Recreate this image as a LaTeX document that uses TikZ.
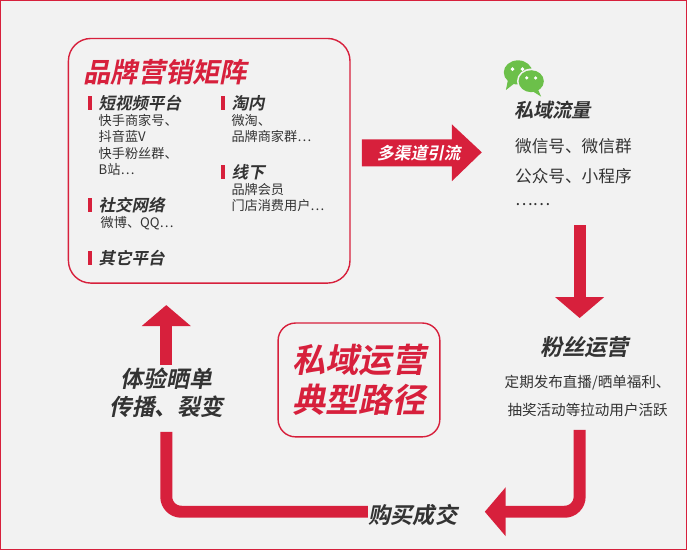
\documentclass[tikz,border=0pt]{standalone}
\usepackage{fontspec}
\setmainfont{Noto Sans CJK SC}[BoldFont={Noto Sans CJK SC Bold}]
\newfontfamily\slantbold[FakeSlant=0.2]{Noto Sans CJK SC Bold}
\usetikzlibrary{positioning,arrows.meta,calc}
\definecolor{brandred}{HTML}{D7203C}
\definecolor{bgray}{HTML}{F2F2F2}
\definecolor{wxgreen}{HTML}{6CC04A}
\definecolor{txt}{HTML}{333333}

\begin{document}
\begin{tikzpicture}[x=0.02cm,y=-0.02cm,
  every node/.style={inner sep=0pt,text=txt},
  title/.style={font=\slantbold\fontsize{15.5}{18}\selectfont,text=brandred,anchor=west},
  head/.style={font=\slantbold\fontsize{9.4}{11}\selectfont,anchor=west},
  sub/.style={font=\fontsize{7.5}{9.2}\selectfont,anchor=north west,align=left},
  bar/.style={fill=brandred},
  bigarrow/.style={draw=brandred,line width=0.24cm,-{Triangle[width=0.96cm,length=0.42cm]}},
  plainband/.style={draw=brandred,line width=0.24cm}
]
\fill[bgray,draw=brandred,line width=0.6pt] (0,0) rectangle (687,550);
\useasboundingbox (0,0) rectangle (687,550);

% brand matrix
\draw[brandred,line width=0.8pt,rounded corners=0.45cm,fill=bgray] (68,38) rectangle (350,283);
\node[title] (mtitle) at (83,72) {品牌营销矩阵};
\foreach \x/\y/\n/\t in {88/103/h1/短视频平台,221/103/h2/淘内,88/205/h3/社交网络,221/172/h4/线下,88/258/h5/其它平台}{
  \fill[bar] (\x,\y-7) rectangle ++(4,14);
  \node[head] (\n) at (\x+10,\y) {\t};
}
\node[sub] (s1) at (98,114) {快手商家号、\\抖音蓝V\\快手粉丝群、\\B站…};
\node[sub] (s2) at (231,114) {微淘、\\品牌商家群…};
\node[sub] (s3) at (100,216) {微博、QQ…};
\node[sub] (s4) at (231,183) {品牌会员\\门店消费用户…};

% multi-channel arrow
\fill[brandred] (362,139) -- (452,139) -- (452,124) -- (482,152) -- (452,181) -- (452,166) -- (362,166) -- cycle;
\node[font=\slantbold\fontsize{9.5}{10}\selectfont,text=white] (chan) at (419,153) {多渠道引流};

% wechat icon
\begin{scope}[shift={(526,72)},scale=1.1]
  \fill[wxgreen] (-7,0) ellipse (13 and 11);
  \fill[wxgreen] (-16,6) -- (-18,16) -- (-9,9) -- cycle;
  \fill[white] (-12,-3) circle (1.8) (-3,-3) circle (1.8);
  \fill[bgray] (5,8) ellipse (13 and 11.5);
  \fill[wxgreen] (5,8) ellipse (11.5 and 10);
  \fill[wxgreen] (11,15) -- (14,22) -- (6,17) -- cycle;
  \fill[white] (1,5) circle (1.6) (9,5) circle (1.6);
\end{scope}
\node[font=\slantbold\fontsize{11}{12}\selectfont,anchor=west] (priv) at (514,110) {私域流量};
\node[font=\fontsize{9.5}{11}\selectfont,anchor=west] (p1) at (515,146) {微信号、微信群};
\node[font=\fontsize{9.5}{11}\selectfont,anchor=west] (p2) at (515,176) {公众号、小程序};
\node[font=\fontsize{9.5}{11}\selectfont,anchor=west] (p3) at (515,204) {……};

% fan operation
\coordinate (dtop) at (580,225);
\coordinate (dtip) at (580,318);
\draw[bigarrow] (dtop) -- (dtip);
\node[font=\slantbold\fontsize{12.7}{14}\selectfont] (fans) at (585,347) {粉丝运营};
\node[font=\fontsize{8.3}{10}\selectfont] (f1) at (588,383) {定期发布直播/晒单福利、};
\node[font=\fontsize{8.3}{10}\selectfont] (f2) at (588,410) {抽奖活动等拉动用户活跃};

% purchase
\coordinate (btop) at (580,430);
\coordinate (btip) at (485,512);
\draw[bigarrow,rounded corners=0.3cm] (btop) |- (btip);
\node[font=\slantbold\fontsize{12.7}{14}\selectfont] (buy) at (413,515) {购买成交};

% share and spread
\coordinate (lstart) at (368,512);
\coordinate (lend) at (166,432);
\draw[plainband,rounded corners=0.3cm] (lstart) -| (lend);
\node[font=\slantbold\fontsize{13}{16}\selectfont,align=center] (share) at (166,393) {体验晒单\\传播、裂变};
\coordinate (ubot) at (166,365);
\coordinate (utip) at (166,305);
\draw[bigarrow] (ubot) -- (utip);

% center label
\draw[brandred,line width=0.8pt,rounded corners=0.35cm] (278,323) rectangle (440,437);
\node[font=\slantbold\fontsize{19}{23}\selectfont,text=brandred,align=center] (center) at (359,380) {私域运营\\典型路径};
\end{tikzpicture}
\end{document}
